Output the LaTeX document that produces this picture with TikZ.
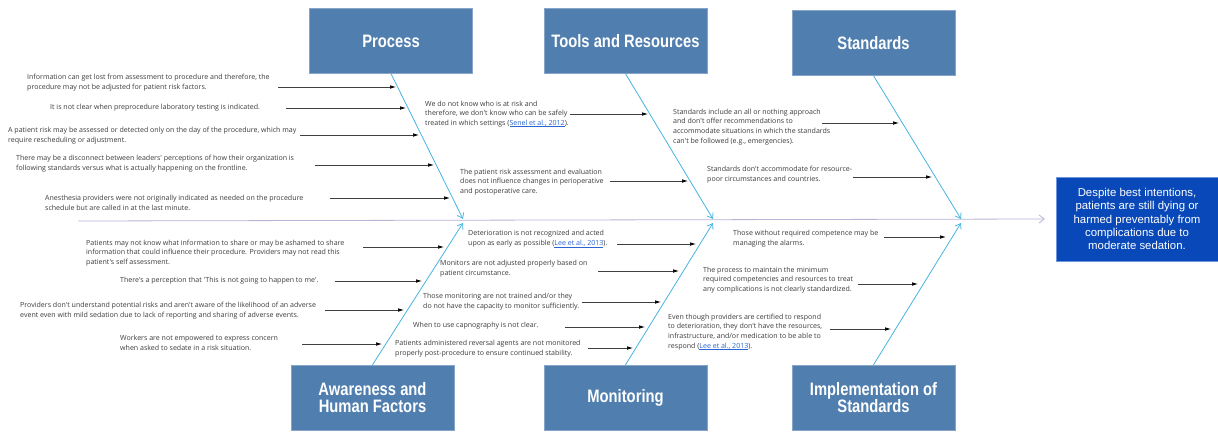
\documentclass[tikz,border=0pt]{standalone}
\usepackage{fontspec}
\usepackage{tikz}
\usetikzlibrary{arrows.meta}
\newfontfamily\notefont{Open Sans}
\newfontfamily\headfont[FakeStretch=0.82]{Liberation Sans}
\newfontfamily\effectfont{Liberation Sans}
\definecolor{catblue}{RGB}{80,126,174}
\definecolor{catedge}{RGB}{135,165,200}
\definecolor{effblue}{RGB}{8,72,184}
\definecolor{effedge}{RGB}{110,150,220}
\definecolor{ribblue}{RGB}{70,180,225}
\definecolor{spinecol}{RGB}{185,178,215}
\definecolor{notegray}{RGB}{60,60,60}
\definecolor{linkblue}{RGB}{40,100,210}
\newcommand{\reflink}[1]{{\color{linkblue}\setbox0\hbox{#1}\rlap{\rule[-1.2pt]{\wd0}{0.4pt}}\box0}}
\tikzstyle{category} = [draw=catedge, fill=catblue, text=white, minimum width=163pt, minimum height=65pt, align=center, font={\headfont\bfseries\fontsize{18}{17}\selectfont}]
\tikzstyle{effect} = [draw=effedge, fill=effblue, text=white, minimum width=162pt, minimum height=84pt, align=center, font={\effectfont\fontsize{11.4}{13.3}\selectfont}]
\tikzstyle{note} = [anchor=west, inner sep=0pt, align=left, text=notegray, font={\notefont\fontsize{7.05}{9.8}\selectfont}]
\tikzstyle{cause} = [draw=black!75, line width=0.7pt, -{Latex[length=6pt,width=3.6pt,color=black]}]
\tikzstyle{rib} = [draw=ribblue, line width=0.8pt, -{Straight Barb[length=5pt,width=7pt]}]
\tikzstyle{spine} = [draw=spinecol, line width=0.8pt, -{Straight Barb[length=5pt,width=8pt]}]
\tikzstyle{coord} = [coordinate]

\begin{document}
\begin{tikzpicture}[x=1pt,y=-1pt]
    \useasboundingbox (0,0) rectangle (1218,431);
    % categories and effect
    \node [category] (process) at (391,41) {Process};
    \node [category] (tools) at (625.5,41) {Tools and Resources};
    \node [category] (standards) at (873.5,43) {Standards};
    \node [category] (awareness) at (372.5,397.5) {Awareness and\\Human Factors};
    \node [category] (monitoring) at (625.5,397.5) {Monitoring};
    \node [category] (implementation) at (873.5,397.5) {Implementation of\\Standards};
    \node [effect] (effect) at (1137,219) {Despite best intentions,\\patients are still dying or\\harmed preventably from\\complications due to\\moderate sedation.};

    \node [coord] (tail) at (78,221) {};
    \node [coord] (hub1) at (463,219) {};
    \node [coord] (hub2) at (713,219) {};
    \node [coord] (hub3) at (961,219) {};
    \node [coord] (hub4) at (463,223) {};
    \node [coord] (hub5) at (713,223) {};
    \node [coord] (hub6) at (961,223) {};

    \draw [spine] (tail) -- ([xshift=-11pt]effect.west);
    \draw [rib] (process.south) -- (hub1);
    \draw [rib] (tools.south) -- (hub2);
    \draw [rib] (standards.south) -- (hub3);
    \draw [rib] (awareness.north) -- (hub4);
    \draw [rib] (monitoring.north) -- (hub5);
    \draw [rib] (implementation.north) -- (hub6);

    % process
    \node [note] (p1) at (27,83) {Information can get lost from assessment to procedure and therefore, the\\procedure may not be adjusted for patient risk factors.};
    \node [note] (p2) at (50,108) {It is not clear when preprocedure laboratory testing is indicated.};
    \node [note] (p3) at (8,136) {A patient risk may be assessed or detected only on the day of the procedure, which may\\require rescheduling or adjustment.};
    \node [note] (p4) at (16,163.5) {There may be a disconnect between leaders' perceptions of how their organization is\\following standards versus what is actually happening on the frontline.};
    \node [note] (p5) at (45,202.5) {Anesthesia providers were not originally indicated as needed on the procedure\\schedule but are called in at the last minute.};
    \node [coord] (p1s) at (278,87) {};   \node [coord] (p1e) at (396,87) {};
    \node [coord] (p2s) at (286,108) {};  \node [coord] (p2e) at (406,108) {};
    \node [coord] (p3s) at (300,135) {};  \node [coord] (p3e) at (419,135) {};
    \node [coord] (p4s) at (315,165) {};  \node [coord] (p4e) at (434,165) {};
    \node [coord] (p5s) at (330,198) {};  \node [coord] (p5e) at (450,198) {};
    \foreach \i in {1,...,5} \draw [cause] (p\i s) -- (p\i e);

    % tools and resources
    \node [note] (r1) at (425,114) {We do not know who is at risk and\\therefore, we don't know who can be safely\\treated in which settings (\reflink{Senel et al., 2012}).};
    \node [note] (r2) at (460,182) {The patient risk assessment and evaluation\\does not influence changes in perioperative\\and postoperative care.};
    \node [coord] (r1s) at (570,114) {};  \node [coord] (r1e) at (648,114) {};
    \node [coord] (r2s) at (610,181) {};  \node [coord] (r2e) at (688,181) {};
    \foreach \i in {1,2} \draw [cause] (r\i s) -- (r\i e);

    % standards
    \node [note] (s1) at (673,127) {Standards include an all or nothing approach\\and don't offer recommendations to\\accommodate situations in which the standards\\can't be followed (e.g., emergencies).};
    \node [note] (s2) at (707,175) {Standards don't accommodate for resource-\\poor circumstances and countries.};
    \node [coord] (s1s) at (822,123) {};  \node [coord] (s1e) at (899,123) {};
    \node [coord] (s2s) at (853,177) {};  \node [coord] (s2e) at (932,177) {};
    \foreach \i in {1,2} \draw [cause] (s\i s) -- (s\i e);

    % awareness and human factors
    \node [note] (h1) at (86,253) {Patients may not know what information to share or may be ashamed to share\\information that could influence their procedure. Providers may not read this\\patient's self assessment.};
    \node [note] (h2) at (120,281) {There's a perception that 'This is not going to happen to me'.};
    \node [note] (h3) at (20,311) {Providers don't understand potential risks and aren't aware of the likelihood of an adverse\\event even with mild sedation due to lack of reporting and sharing of adverse events.};
    \node [note] (h4) at (120,343) {Workers are not empowered to express concern\\when asked to sedate in a risk situation.};
    \node [coord] (h1s) at (363,247) {};  \node [coord] (h1e) at (444,247) {};
    \node [coord] (h2s) at (335,281) {};  \node [coord] (h2e) at (422,281) {};
    \node [coord] (h3s) at (325,310) {};  \node [coord] (h3e) at (404,310) {};
    \node [coord] (h4s) at (302,344) {};  \node [coord] (h4e) at (382,344) {};
    \foreach \i in {1,...,4} \draw [cause] (h\i s) -- (h\i e);

    % monitoring
    \node [note] (m1) at (468,239) {Deterioration is not recognized and acted\\upon as early as possible (\reflink{Lee et al., 2013}).};
    \node [note] (m2) at (440,269) {Monitors are not adjusted properly based on\\patient circumstance.};
    \node [note] (m3) at (423,302) {Those monitoring are not trained and/or they\\do not have the capacity to monitor sufficiently.};
    \node [note] (m4) at (413,326) {When to use capnography is not clear.};
    \node [note] (m5) at (395,349) {Patients administered reversal agents are not monitored\\properly post-procedure to ensure continued stability.};
    \node [coord] (m1s) at (617,244) {};  \node [coord] (m1e) at (696,244) {};
    \node [coord] (m2s) at (598,271) {};  \node [coord] (m2e) at (679,271) {};
    \node [coord] (m3s) at (582,302) {};  \node [coord] (m3e) at (661,302) {};
    \node [coord] (m4s) at (565,327) {};  \node [coord] (m4e) at (645,327) {};
    \node [coord] (m5s) at (588,348) {};  \node [coord] (m5e) at (633,348) {};
    \foreach \i in {1,...,5} \draw [cause] (m\i s) -- (m\i e);

    % implementation of standards
    \node [note] (i1) at (733,239) {Those without required competence may be\\managing the alarms.};
    \node [note] (i2) at (703,280) {The process to maintain the minimum\\required competencies and resources to treat\\any complications is not clearly standardized.};
    \node [note] (i3) at (668,332) {Even though providers are certified to respond\\to deterioration, they don't have the resources,\\infrastructure, and/or medication to be able to\\respond (\reflink{Lee et al., 2013}).};
    \node [coord] (i1s) at (884,237) {};  \node [coord] (i1e) at (946,237) {};
    \node [coord] (i2s) at (858,284) {};  \node [coord] (i2e) at (918,284) {};
    \node [coord] (i3s) at (830,329) {};  \node [coord] (i3e) at (891,329) {};
    \foreach \i in {1,2,3} \draw [cause] (i\i s) -- (i\i e);
\end{tikzpicture}
\end{document}
